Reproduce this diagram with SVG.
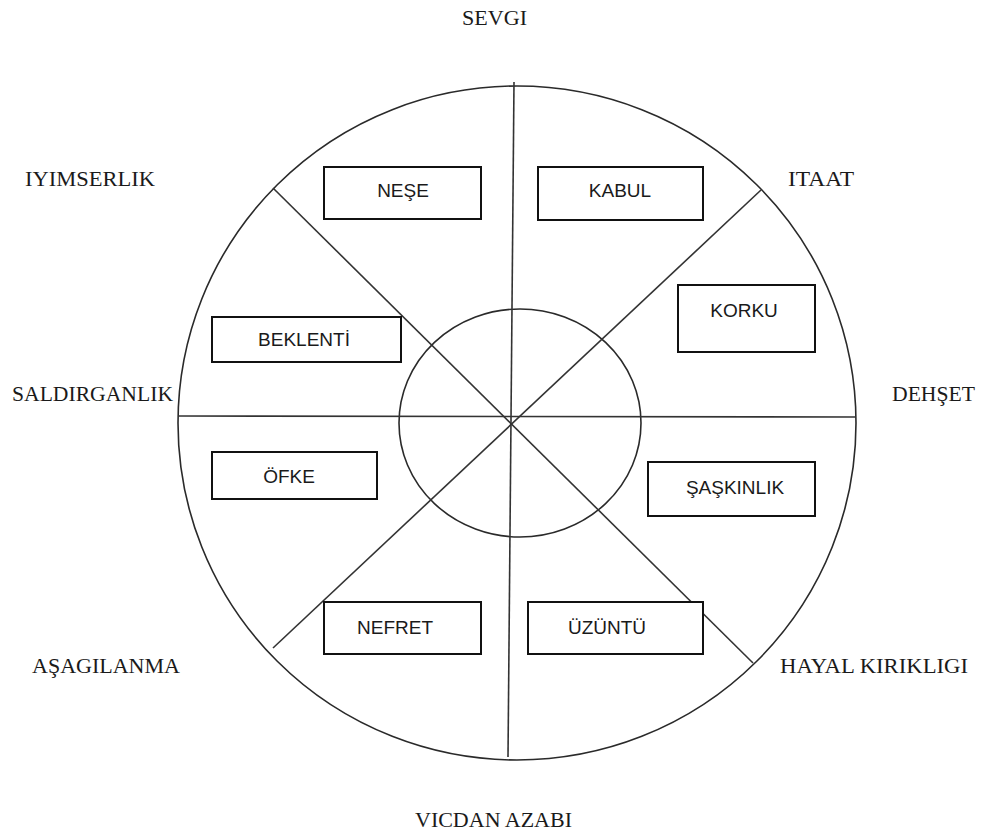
<svg xmlns="http://www.w3.org/2000/svg" width="983" height="836" viewBox="0 0 983 836">
<style>
.wheel{fill:none;stroke:#2a2a2a;stroke-width:1.6}
.spoke{stroke:#333;stroke-width:1.6;fill:none}
.box{fill:#fff;stroke:#111;stroke-width:2}
.in{font-family:"Liberation Sans",Arial,sans-serif;font-size:19px;fill:#1a1a1a;text-anchor:middle}
.out{font-family:"Liberation Serif","Times New Roman",serif;font-size:22px;fill:#1a1a1a}
</style>
<rect width="983" height="836" fill="#fff"/>
<g id="wheel">
<ellipse class="wheel" cx="517" cy="423" rx="339" ry="337"/>
<ellipse class="wheel" cx="520" cy="423" rx="121" ry="114"/>
</g>
<g id="connectors">
<line class="spoke" x1="514" y1="82" x2="508" y2="757"/>
<line class="spoke" x1="178" y1="416" x2="856" y2="417"/>
<line class="spoke" x1="273" y1="188" x2="753" y2="663"/>
<line class="spoke" x1="761" y1="190" x2="273" y2="648"/>
</g>
<g id="nese"><rect class="box" x="324" y="167" width="157" height="52"/><text class="in" x="403" y="197">NEŞE</text></g>
<g id="kabul"><rect class="box" x="538" y="167" width="165" height="53"/><text class="in" x="620" y="197">KABUL</text></g>
<g id="korku"><rect class="box" x="678" y="285" width="137" height="67"/><text class="in" x="744" y="317">KORKU</text></g>
<g id="beklenti"><rect class="box" x="212" y="317" width="189" height="45"/><text class="in" x="304" y="346">BEKLENTİ</text></g>
<g id="ofke"><rect class="box" x="212" y="452" width="165" height="47"/><text class="in" x="289" y="483">ÖFKE</text></g>
<g id="saskinlik"><rect class="box" x="648" y="462" width="167" height="54"/><text class="in" x="735" y="494">ŞAŞKINLIK</text></g>
<g id="nefret"><rect class="box" x="324" y="602" width="157" height="52"/><text class="in" x="395" y="634">NEFRET</text></g>
<g id="uzuntu"><rect class="box" x="528" y="602" width="175" height="52"/><text class="in" x="607" y="634">ÜZÜNTÜ</text></g>
<g id="sevgi"><text class="out" x="462" y="25" textLength="65" lengthAdjust="spacingAndGlyphs">SEVGI</text></g>
<g id="itaat"><text class="out" x="788" y="186" textLength="66" lengthAdjust="spacingAndGlyphs">ITAAT</text></g>
<g id="dehset"><text class="out" x="892" y="401" textLength="83" lengthAdjust="spacingAndGlyphs">DEHŞET</text></g>
<g id="hayal"><text class="out" x="780" y="673" textLength="188" lengthAdjust="spacingAndGlyphs">HAYAL KIRIKLIGI</text></g>
<g id="vicdan"><text class="out" x="415" y="827" textLength="157" lengthAdjust="spacingAndGlyphs">VICDAN AZABI</text></g>
<g id="asagilanma"><text class="out" x="32" y="673" textLength="148" lengthAdjust="spacingAndGlyphs">AŞAGILANMA</text></g>
<g id="saldirganlik"><text class="out" x="12" y="401" textLength="161" lengthAdjust="spacingAndGlyphs">SALDIRGANLIK</text></g>
<g id="iyimserlik"><text class="out" x="25" y="186" textLength="130" lengthAdjust="spacingAndGlyphs">IYIMSERLIK</text></g>
</svg>
